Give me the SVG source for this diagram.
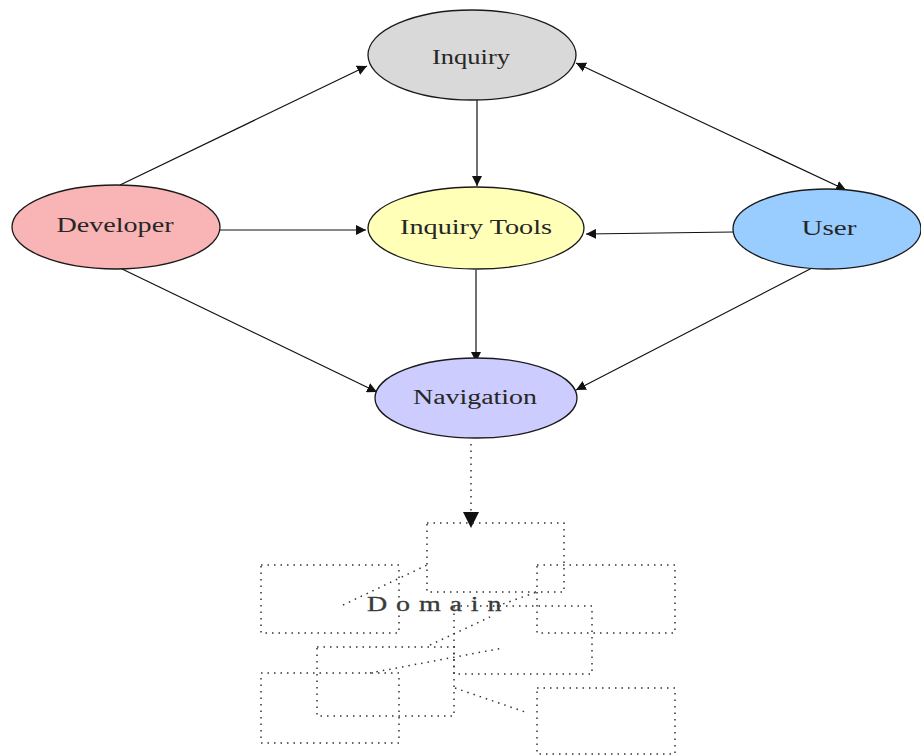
<svg xmlns="http://www.w3.org/2000/svg" width="921" height="756" viewBox="0 0 921 756">
  <style>
    .node ellipse { stroke: #1a1a1a; stroke-width: 1.3; }
    .label { font-family: "Liberation Serif", "Times New Roman", serif; font-size: 20px; fill: #262626; text-anchor: middle; }
    .edge { stroke: #111; stroke-width: 1.2; fill: none; }
    .dot { stroke: #333; stroke-width: 1.5; fill: none; stroke-dasharray: 1.5 5; }
    .domain-text { font-family: "Liberation Serif", "Times New Roman", serif; font-size: 20px; fill: #3a3a3a; stroke: #3a3a3a; stroke-width: 0.3; }
  </style>
  <defs>
    <marker id="arrow" viewBox="0 0 10 10" refX="10" refY="5" markerWidth="10" markerHeight="10" markerUnits="userSpaceOnUse" orient="auto-start-reverse">
      <path d="M0,0 L10,5 L0,10 z" fill="#111"/>
    </marker>
    <marker id="bigarrow" viewBox="0 0 10 10" refX="10" refY="5" markerWidth="16" markerHeight="16" markerUnits="userSpaceOnUse" orient="auto">
      <path d="M0,0 L10,5 L0,10 z" fill="#111"/>
    </marker>
  </defs>

  <rect width="921" height="756" fill="#fff"/>

  <!-- connectors -->
  <g id="edges">
    <line class="edge" x1="120" y1="185" x2="367" y2="66" marker-end="url(#arrow)"/>
    <line class="edge" x1="576" y1="63" x2="846" y2="190" marker-start="url(#arrow)" marker-end="url(#arrow)"/>
    <line class="edge" x1="477" y1="100" x2="477" y2="186" marker-end="url(#arrow)"/>
    <line class="edge" x1="220" y1="230" x2="366" y2="230" marker-end="url(#arrow)"/>
    <line class="edge" x1="733" y1="232" x2="586" y2="234" marker-end="url(#arrow)"/>
    <line class="edge" x1="476" y1="270" x2="476" y2="362" marker-end="url(#arrow)"/>
    <line class="edge" x1="120" y1="268" x2="377" y2="392" marker-end="url(#arrow)"/>
    <line class="edge" x1="812" y1="268" x2="576" y2="390" marker-end="url(#arrow)"/>
    <line class="dot" x1="471" y1="444" x2="471" y2="528" marker-end="url(#bigarrow)"/>
  </g>

  <!-- nodes -->
  <g id="inquiry" class="node">
    <ellipse cx="472" cy="55" rx="104" ry="45" fill="#d9d9d9"/>
    <text class="label" x="471" y="64" textLength="78" lengthAdjust="spacingAndGlyphs">Inquiry</text>
  </g>
  <g id="developer" class="node">
    <ellipse cx="116" cy="227" rx="104" ry="42" fill="#f9b5b5"/>
    <text class="label" x="115" y="232" textLength="117" lengthAdjust="spacingAndGlyphs">Developer</text>
  </g>
  <g id="inquiry-tools" class="node">
    <ellipse cx="476" cy="228" rx="108" ry="41" fill="#ffffb8"/>
    <text class="label" x="476" y="234" textLength="152" lengthAdjust="spacingAndGlyphs">Inquiry Tools</text>
  </g>
  <g id="user" class="node">
    <ellipse cx="827" cy="229" rx="94" ry="40" fill="#99ccff"/>
    <text class="label" x="829" y="235" textLength="55" lengthAdjust="spacingAndGlyphs">User</text>
  </g>
  <g id="navigation" class="node">
    <ellipse cx="476" cy="398" rx="101" ry="40" fill="#ccccff"/>
    <text class="label" x="475" y="404" textLength="124" lengthAdjust="spacingAndGlyphs">Navigation</text>
  </g>

  <!-- domain cluster of dotted boxes -->
  <g id="domain">
    <rect class="dot" x="427" y="523" width="137" height="69"/>
    <rect class="dot" x="261" y="565" width="138" height="68"/>
    <rect class="dot" x="537" y="565" width="138" height="68"/>
    <rect class="dot" x="454" y="606" width="138" height="68"/>
    <rect class="dot" x="317" y="647" width="137" height="69"/>
    <rect class="dot" x="261" y="673" width="138" height="70"/>
    <rect class="dot" x="537" y="688" width="138" height="66"/>
    <line class="dot" x1="343" y1="605" x2="427" y2="565"/>
    <line class="dot" x1="497" y1="606" x2="537" y2="592"/>
    <line class="dot" x1="430" y1="645" x2="490" y2="617"/>
    <line class="dot" x1="370" y1="673" x2="503" y2="648"/>
    <line class="dot" x1="455" y1="688" x2="528" y2="713"/>
    <text class="domain-text" transform="translate(367,611) scale(1.4,1)" x="0" y="0" textLength="96" lengthAdjust="spacing">Domain</text>
  </g>
</svg>
